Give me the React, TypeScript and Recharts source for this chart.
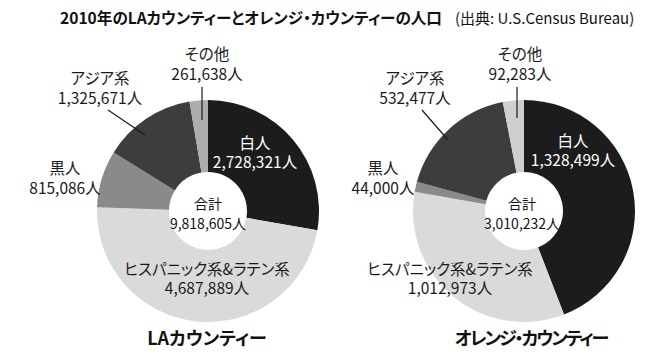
import React from 'react';
import { PieChart, Pie, Cell } from 'recharts';

// ---- data ----
const categories = ['白人', 'ヒスパニック系&ラテン系', '黒人', 'アジア系', 'その他'];
const laValues = [2728321, 4687889, 815086, 1325671, 261638];
const ocValues = [1328499, 1012973, 44000, 532477, 92283];
const chartTitles = ['LAカウンティー', 'オレンジ・カウンティー'];
const mainTitle = '2010年のLAカウンティーとオレンジ・カウンティーの人口';
const sourceNote = '(出典: U.S.Census Bureau)';
const totalLabel = '合計';
const unit = '人';

// ---- styling / layout ----
const W = 671;
const H = 362;
const FONT = '"Noto Sans CJK JP", "Noto Sans", sans-serif';
const CENTERS = [
  { x: 208, y: 211 },
  { x: 524, y: 211 },
];
const INNER = 39;
const OUTER = 111;
const laColors = ['#1c1c1c', '#dadada', '#8a8a8a', '#3d3d3d', '#adadad'];
const ocColors = ['#1c1c1c', '#dadada', '#8a8a8a', '#3d3d3d', '#cfcfcf'];
const textColors = ['#ffffff', '#1a1a1a', '#1a1a1a', '#1a1a1a', '#1a1a1a'];
const LABEL_SIZE = 15.5;

type Lay = { nx: number; ny: number; vx: number; vy: number; line?: [number, number, number, number] };
const laLayout: Lay[] = [
  { nx: 47, ny: -69, vx: 47, vy: -50 },
  { nx: -1, ny: 57, vx: -1, vy: 76 },
  { nx: -143, ny: -44, vx: -143, vy: -24 },
  { nx: -108, ny: -134, vx: -108, vy: -114, line: [-100, -101, -63, -76] },
  { nx: -1, ny: -158, vx: -1, vy: -138, line: [-6, -124, -6, -91] },
];
const ocLayout: Lay[] = [
  { nx: 49, ny: -71, vx: 49, vy: -52 },
  { nx: -74, ny: 57, vx: -74, vy: 76 },
  { nx: -141, ny: -44, vx: -141, vy: -24 },
  { nx: -109, ny: -134, vx: -109, vy: -114, line: [-102, -101, -76, -71] },
  { nx: -4, ny: -158, vx: -4, vy: -138, line: [-7, -124, -7, -93] },
];

const fmt = (v: number) => v.toLocaleString('en-US') + unit;

const laData = categories.map((name, i) => ({ name, value: laValues[i] }));
const ocData = categories.map((name, i) => ({ name, value: ocValues[i] }));

const makeLabel = (layout: Lay[], center: { x: number; y: number }) => (props: any) => {
  const i = props.index as number;
  const cx = typeof props.cx === 'number' ? props.cx : center.x;
  const cy = typeof props.cy === 'number' ? props.cy : center.y;
  const l = layout[i];
  const fill = textColors[i];
  return (
    <g key={`lbl-${i}`}>
      {l.line && (
        <line
          x1={cx + l.line[0]}
          y1={cy + l.line[1]}
          x2={cx + l.line[2]}
          y2={cy + l.line[3]}
          stroke="#1a1a1a"
          strokeWidth={1.2}
        />
      )}
      <text x={cx + l.nx} y={cy + l.ny} textAnchor="middle" dominantBaseline="central" fill={fill} fontSize={LABEL_SIZE} fontFamily={FONT}>
        {props.name}
      </text>
      <text x={cx + l.vx} y={cy + l.vy} textAnchor="middle" dominantBaseline="central" fill={fill} fontSize={LABEL_SIZE} fontFamily={FONT}>
        {fmt(props.value)}
      </text>
    </g>
  );
};

const totals = [laValues.reduce((a, b) => a + b, 0), ocValues.reduce((a, b) => a + b, 0)];

export default function App() {
  return (
    <div
      style={{
        position: 'absolute',
        left: 0,
        top: 0,
        width: W,
        height: H,
        background: '#fff',
        fontFamily: FONT,
        fontFeatureSettings: '"palt"',
      }}
    >
      <PieChart width={W} height={H} margin={{ top: 0, right: 0, bottom: 0, left: 0 }}>
        <Pie
          data={laData}
          dataKey="value"
          nameKey="name"
          cx={CENTERS[0].x}
          cy={CENTERS[0].y}
          innerRadius={INNER}
          outerRadius={OUTER}
          startAngle={90}
          endAngle={-270}
          stroke="none"
          isAnimationActive={false}
          labelLine={false}
          label={makeLabel(laLayout, CENTERS[0])}
        >
          {laData.map((d, i) => (
            <Cell key={d.name} fill={laColors[i]} />
          ))}
        </Pie>
        <Pie
          data={ocData}
          dataKey="value"
          nameKey="name"
          cx={CENTERS[1].x}
          cy={CENTERS[1].y}
          innerRadius={INNER}
          outerRadius={OUTER}
          startAngle={90}
          endAngle={-270}
          stroke="none"
          isAnimationActive={false}
          labelLine={false}
          label={makeLabel(ocLayout, CENTERS[1])}
        >
          {ocData.map((d, i) => (
            <Cell key={d.name} fill={ocColors[i]} />
          ))}
        </Pie>
      </PieChart>
      <svg width={W} height={H} style={{ position: 'absolute', left: 0, top: 0, pointerEvents: 'none' }}>
        <text x={60} y={24} fontSize={15.6} fontWeight="bold" fill="#111" fontFamily={FONT}>
          {mainTitle}
        </text>
        <text x={455} y={24} fontSize={15} fill="#111" fontFamily={FONT}>
          {sourceNote}
        </text>
        {CENTERS.map((c, k) => (
          <g key={`c-${k}`}>
            <text x={c.x + (k === 0 ? 0 : -2)} y={c.y - 8} textAnchor="middle" dominantBaseline="central" fontSize={14} fill="#111" fontFamily={FONT}>
              {totalLabel}
            </text>
            <text x={c.x + (k === 0 ? 0 : -2)} y={c.y + 12} textAnchor="middle" dominantBaseline="central" fontSize={14} fill="#111" fontFamily={FONT}>
              {fmt(totals[k])}
            </text>
          </g>
        ))}
        <text x={207} y={337} textAnchor="middle" dominantBaseline="central" fontSize={18} fontWeight="bold" fill="#111" fontFamily={FONT}>
          {chartTitles[0]}
        </text>
        <text x={531} y={337} textAnchor="middle" dominantBaseline="central" fontSize={18} fontWeight="bold" letterSpacing={-2} fill="#111" fontFamily={FONT}>
          {chartTitles[1]}
        </text>
      </svg>
    </div>
  );
}
